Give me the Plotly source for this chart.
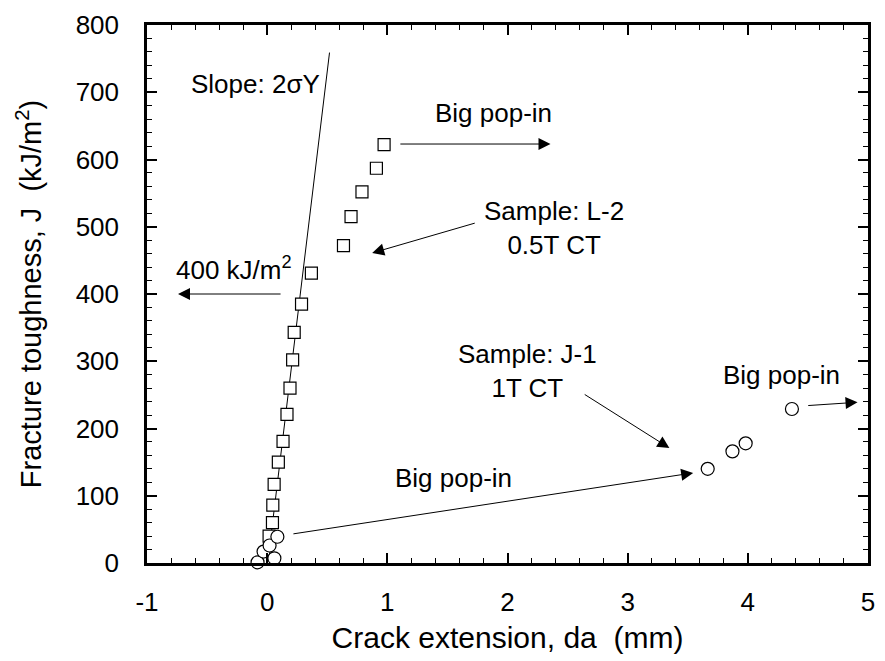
import plotly.graph_objects as go

# Sample L-2 (0.5T CT) - squares
l2_da = [0.016, 0.044, 0.047, 0.058, 0.093, 0.132, 0.165, 0.190, 0.212, 0.225, 0.286, 0.368, 0.635, 0.698, 0.789, 0.909, 0.973]
l2_J = [40, 60, 86, 117, 150, 181, 221, 260, 302, 343, 385, 431, 472, 515, 552, 587, 622]

# Sample J-1 (1T CT) - circles
j1_da = [-0.08, -0.03, 0.02, 0.06, 0.085, 3.666, 3.872, 3.982, 4.367]
j1_J = [1, 17, 26, 7, 39, 140, 166, 178, 229]

# Blunting line, slope 2 sigma_Y
line_da = [0.035, 0.519]
line_J = [45, 759]

# Tick labels
x_ticks = [-1, 0, 1, 2, 3, 4, 5]
x_ticktext = ["-1", "0", "1", "2", "3", "4", "5"]
y_ticks = [0, 100, 200, 300, 400, 500, 600, 700, 800]

FONT = "Liberation Sans, Arial, Helvetica, sans-serif"
fs = 26

fig = go.Figure()
fig.add_trace(go.Scatter(x=line_da, y=line_J, mode="lines",
                         line=dict(color="black", width=1), showlegend=False))
fig.add_trace(go.Scatter(x=l2_da, y=l2_J, mode="markers", cliponaxis=False,
                         marker=dict(symbol="square", size=12, color="white",
                                     line=dict(color="black", width=1.2)),
                         showlegend=False))
fig.add_trace(go.Scatter(x=j1_da, y=j1_J, mode="markers", cliponaxis=False,
                         marker=dict(symbol="circle", size=13, color="white",
                                     line=dict(color="black", width=1.2)),
                         showlegend=False))

texts = [
    ("Slope: 2σY", -0.1, 712),
    ("Big pop-in", 1.88, 669),
    ("Sample: L-2<br>0.5T CT", 2.39, 498),
    ("400 kJ/m<sup>2</sup>", -0.28, 438),
    ("Sample: J-1<br>1T CT", 2.17, 285),
    ("Big pop-in", 1.55, 126),
    ("Big pop-in", 4.28, 280),
]
for t, x, y in texts:
    fig.add_annotation(x=x, y=y, text=t, showarrow=False, xref="x", yref="y",
                       font=dict(family=FONT, size=fs, color="black"), align="center")

arrows = [
    (1.096, 623, 2.358, 623),
    (1.74, 506, 0.874, 461),
    (0.124, 400, -0.742, 400),
    (2.63, 252, 3.347, 171),
    (0.206, 43, 3.545, 134),
    (4.49, 234, 4.913, 239),
]
for x0, y0, x1, y1 in arrows:
    fig.add_annotation(x=x1, y=y1, ax=x0, ay=y0, xref="x", yref="y", axref="x", ayref="y",
                       text="", showarrow=True, arrowhead=2, arrowsize=2.4, arrowwidth=1,
                       arrowcolor="black")

fig.update_layout(
    width=885, height=661,
    margin=dict(l=147, r=10, t=24, b=98),
    paper_bgcolor="white", plot_bgcolor="white",
    font=dict(family=FONT, size=fs, color="black"),
    xaxis=dict(range=[-1, 5], tickvals=x_ticks, ticktext=x_ticktext, showgrid=False, zeroline=False,
               showline=True, linecolor="black", linewidth=2.5, mirror="allticks",
               ticks="inside", ticklen=10, tickwidth=1.5, tickcolor="black",
               ticklabelstandoff=14,
               minor=dict(dtick=0.2, tick0=0, ticks="inside", ticklen=5, tickwidth=1.2, tickcolor="black"),
               title=dict(text="Crack extension, da\u00a0\u00a0(mm)", standoff=12,
                          font=dict(family=FONT, size=30)),
               tickfont=dict(family=FONT, size=fs)),
    yaxis=dict(range=[0, 800], tickvals=y_ticks, showgrid=False, zeroline=False,
               showline=True, linecolor="black", linewidth=2.5, mirror="allticks",
               ticks="inside", ticklen=10, tickwidth=1.5, tickcolor="black",
               ticklabelstandoff=20,
               minor=dict(dtick=20, tick0=0, ticks="inside", ticklen=5, tickwidth=1.2, tickcolor="black"),
               title=dict(text="Fracture toughness, J\u00a0\u00a0(kJ/m<sup>2</sup>)", standoff=26,
                          font=dict(family=FONT, size=29)),
               tickfont=dict(family=FONT, size=fs)),
)

fig.write_html("out.html")
